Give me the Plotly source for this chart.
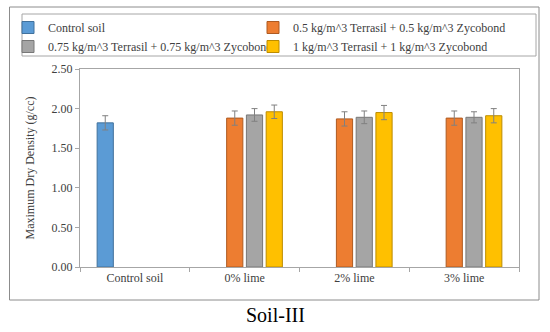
import plotly.graph_objects as go

categories = ["Control soil", "0% lime", "2% lime", "3% lime"]
series_names = [
    "Control soil",
    "0.5 kg/m^3 Terrasil + 0.5 kg/m^3 Zycobond",
    "0.75 kg/m^3 Terrasil + 0.75 kg/m^3 Zycobond",
    "1 kg/m^3 Terrasil + 1 kg/m^3 Zycobond",
]
control_vals = [1.82, None, None, None]
t05_vals = [None, 1.88, 1.87, 1.88]
t075_vals = [None, 1.92, 1.89, 1.89]
t1_vals = [None, 1.96, 1.95, 1.91]

control_err = [0.09, 0, 0, 0]
t05_err = [0, 0.09, 0.09, 0.09]
t075_err = [0, 0.08, 0.08, 0.07]
t1_err = [0, 0.085, 0.09, 0.09]

y_ticks = [0, 0.5, 1.0, 1.5, 2.0, 2.5]

fills = ["#5B9BD5", "#ED7D31", "#A5A5A5", "#FFC000"]
edges = ["#41719C", "#AE5A21", "#787878", "#BC8C00"]
legend_ids = ["legend", "legend2", "legend", "legend2"]

W, H = 550, 332
ML, MR, MT, MB = 80, 31, 69, 65
PW, PH = W - ML - MR, H - MT - MB


def px_x(p):
    return (p - ML) / PW


def px_y(p):
    return (H - MB - p) / PH


fig = go.Figure()
for name, vals, errs, fc, ec, lg in zip(
    series_names,
    [control_vals, t05_vals, t075_vals, t1_vals],
    [control_err, t05_err, t075_err, t1_err],
    fills,
    edges,
    legend_ids,
):
    fig.add_trace(
        go.Bar(
            name=name,
            x=categories,
            y=vals,
            legend=lg,
            marker=dict(color=fc, line=dict(color=ec, width=1)),
            error_y=dict(type="data", array=errs, visible=True,
                         color="#808080", thickness=1, width=3),
        )
    )

font_family = "Liberation Serif, Times New Roman, serif"
legend_common = dict(
    orientation="v",
    yanchor="top",
    tracegroupgap=0,
    itemwidth=30,
    font=dict(family=font_family, size=12, color="#404040"),
    bgcolor="rgba(0,0,0,0)",
    borderwidth=0,
)

fig.update_layout(
    template="none",
    width=W,
    height=H,
    margin=dict(l=ML, r=MR, t=MT, b=MB, autoexpand=False),
    paper_bgcolor="white",
    plot_bgcolor="white",
    barmode="group",
    bargap=0.28,
    bargroupgap=0.18,
    font=dict(family=font_family, size=12, color="#404040"),
    showlegend=True,
    legend=dict(x=px_x(278), xanchor="right", y=px_y(13), **legend_common),
    legend2=dict(x=px_x(253), xanchor="left", y=px_y(13), **legend_common),
    xaxis=dict(
        automargin=False,
        showline=True,
        linecolor="#A6A6A6",
        linewidth=1,
        mirror=True,
        ticks="outside",
        tickson="boundaries",
        ticklen=4,
        tickcolor="#A6A6A6",
        showgrid=False,
        tickfont=dict(family=font_family, size=12, color="#404040"),
    ),
    yaxis=dict(
        automargin=False,
        range=[0, 2.5],
        tickvals=y_ticks,
        tickformat=".2f",
        showline=True,
        linecolor="#A6A6A6",
        linewidth=1,
        mirror=True,
        ticks="outside",
        ticklen=4,
        tickcolor="#A6A6A6",
        showgrid=False,
        zeroline=False,
        tickfont=dict(family=font_family, size=12, color="#404040"),
        title=dict(text="Maximum Dry Density (g/cc)",
                   font=dict(family=font_family, size=12, color="#404040"),
                   standoff=14),
    ),
    shapes=[
        dict(type="rect", xref="paper", yref="paper",
             x0=px_x(9.5), x1=px_x(539), y0=px_y(300), y1=px_y(7),
             line=dict(color="#8C8C8C", width=1), fillcolor="rgba(0,0,0,0)",
             layer="below"),
        dict(type="rect", xref="paper", yref="paper",
             x0=px_x(22), x1=px_x(536), y0=px_y(56), y1=px_y(14),
             line=dict(color="#A6A6A6", width=1), fillcolor="rgba(0,0,0,0)",
             layer="below"),
    ],
    annotations=[
        dict(text="Soil-III", xref="paper", yref="paper",
             x=px_x(275), y=px_y(315), xanchor="center", yanchor="middle",
             showarrow=False,
             font=dict(family=font_family, size=20, color="#000000")),
    ],
)

fig.write_html(
    "out.html",
    config={"displayModeBar": False},
    post_script="document.body.style.margin='0';document.body.style.padding='0';",
)
